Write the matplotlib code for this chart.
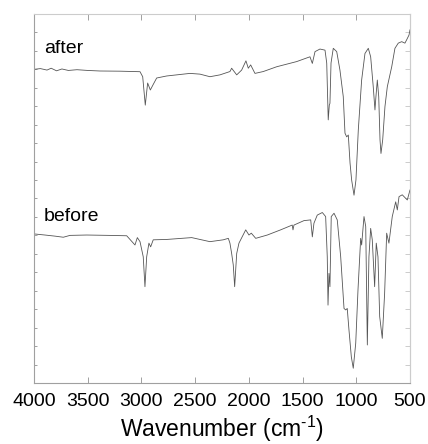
import matplotlib
matplotlib.use("Agg")
import matplotlib.pyplot as plt
from matplotlib.ticker import MultipleLocator, NullFormatter

plt.rcParams['font.family'] = ['Liberation Sans', 'DejaVu Sans']
plt.rcParams['mathtext.fontset'] = 'custom'
plt.rcParams['mathtext.rm'] = 'Liberation Sans'
plt.rcParams['axes.unicode_minus'] = False

# FTIR spectra (wavenumber in cm^-1, transmittance in arbitrary offset units)
after_wn = [4000, 3940, 3879, 3840, 3790, 3740, 3680, 3600, 3500, 3386, 3200,
            3013, 2988, 2964, 2942, 2917, 2892, 2858, 2765, 2548, 2455, 2362,
            2269, 2176, 2160, 2113, 2067, 2027, 2005, 1983, 1943, 1866, 1741,
            1555, 1431, 1409, 1384, 1338, 1291, 1275, 1261, 1251, 1245, 1235,
            1214, 1182, 1152, 1121, 1105, 1089, 1074, 1058, 1043, 1021, 1003,
            981, 950, 919, 888, 866, 842, 826, 817, 804, 791, 779, 770, 754,
            733, 711, 670, 640, 609, 577, 547, 531, 509, 500]
after_t = [85.0, 85.2, 84.8, 85.3, 84.6, 85.1, 84.7, 84.9, 84.7, 84.55, 84.5,
           84.36, 83.0, 75.3, 81.3, 79.4, 80.8, 82.65, 83.2, 83.9, 83.7, 83.0,
           83.5, 84.4, 85.3, 83.5, 84.8, 87.3, 85.3, 86.2, 83.9, 84.4, 85.7,
           87.1, 88.4, 86.6, 89.8, 90.5, 90.2, 86.7, 71.3, 75.3, 75.8, 86.7,
           90.7, 89.8, 84.8, 77.6, 67.7, 66.7, 67.2, 59.6, 55.0, 50.9, 55.0,
           68.6, 82.1, 89.3, 90.7, 88.4, 80.3, 74.0, 77.6, 82.1, 77.6, 65.9,
           62.2, 65.9, 74.9, 80.3, 85.7, 90.7, 92.1, 92.5, 92.1, 93.0, 94.3,
           95.7]

before_wn = [4000, 3898, 3805, 3727, 3665, 3509, 3300, 3137, 3060, 3038, 3013,
             2983, 2967, 2951, 2930, 2914, 2890, 2765, 2532, 2455, 2362, 2238,
             2191, 2176, 2160, 2145, 2132, 2113, 2092, 2029, 1999, 1977, 1936,
             1828, 1704, 1596, 1589, 1580, 1487, 1424, 1409, 1394, 1363, 1316,
             1285, 1270, 1263, 1254, 1245, 1233, 1207, 1177, 1145, 1114, 1098,
             1084, 1068, 1046, 1028, 1005, 984, 959, 950, 928, 912, 897, 882,
             866, 851, 829, 814, 798, 782, 758, 736, 717, 696, 665, 633, 618,
             602, 572, 525, 500]
before_t = [40.4, 40.1, 39.8, 39.5, 40.0, 40.1, 40.0, 39.9, 37.4, 39.4, 38.3,
            34.2, 26.1, 34.2, 37.9, 36.9, 38.8, 38.9, 39.4, 38.9, 38.3, 38.8,
            39.2, 37.9, 35.1, 32.0, 26.1, 35.1, 37.9, 41.5, 40.1, 40.6, 39.2,
            40.1, 41.5, 42.8, 41.5, 42.8, 44.0, 44.2, 39.6, 43.3, 45.5, 46.2,
            45.1, 34.2, 21.1, 29.7, 26.1, 45.1, 46.0, 44.2, 34.2, 20.2, 19.8,
            20.2, 14.4, 7.1, 4.0, 10.8, 25.2, 39.2, 37.4, 45.1, 42.4, 10.3,
            34.2, 41.9, 38.8, 26.1, 37.9, 34.2, 18.0, 12.1, 24.3, 40.6, 37.9,
            45.1, 49.1, 46.9, 50.5, 51.0, 49.6, 52.3]

labels = ["after", "before"]
label_pos = [(3910, 88.3), (3910, 42.7)]

xticks = [4000, 3500, 3000, 2500, 2000, 1500, 1000, 500]

fig = plt.figure(figsize=(4.28, 4.44), dpi=100)
ax = fig.add_axes([0.0794, 0.1374, 0.8785, 0.8311])

line_color = "#555555"
ax.plot(after_wn, after_t, color=line_color, lw=0.6)
ax.plot(before_wn, before_t, color=line_color, lw=0.6)

for text, (x, y) in zip(labels, label_pos):
    ax.text(x, y, text, fontsize=14, ha="left", va="bottom", color="black")

ax.set_xlim(4000, 500)
ax.set_ylim(0, 100)
ax.set_xticks(xticks)
ax.set_xticklabels([str(t) for t in xticks], fontsize=14)
ax.yaxis.set_major_locator(MultipleLocator(5))
ax.yaxis.set_major_formatter(NullFormatter())

dark_frame = "#a0a0a0"
light_frame = "#cccccc"
ax.spines["left"].set_color(dark_frame)
ax.spines["bottom"].set_color(dark_frame)
ax.spines["top"].set_color(light_frame)
ax.spines["right"].set_color(light_frame)
for sp in ax.spines.values():
    sp.set_linewidth(0.8)

ax.tick_params(axis="x", direction="in", length=4, width=0.7, color=dark_frame,
               top=True, bottom=True, pad=7)
ax.tick_params(axis="y", direction="in", length=1.8, width=0.7, color=dark_frame,
               left=True, right=False)

right = ax.secondary_yaxis("right")
right.yaxis.set_major_locator(MultipleLocator(5))
right.yaxis.set_major_formatter(NullFormatter())
right.tick_params(direction="in", length=3.6, width=0.7, color=light_frame)
right.spines["right"].set_color(light_frame)
right.spines["right"].set_linewidth(0.8)

ax.set_xlabel("Wavenumber (cm$^{\\mathrm{\u2010}1}$)", fontsize=16.5, labelpad=3)

fig.savefig("out.png", dpi=100)
